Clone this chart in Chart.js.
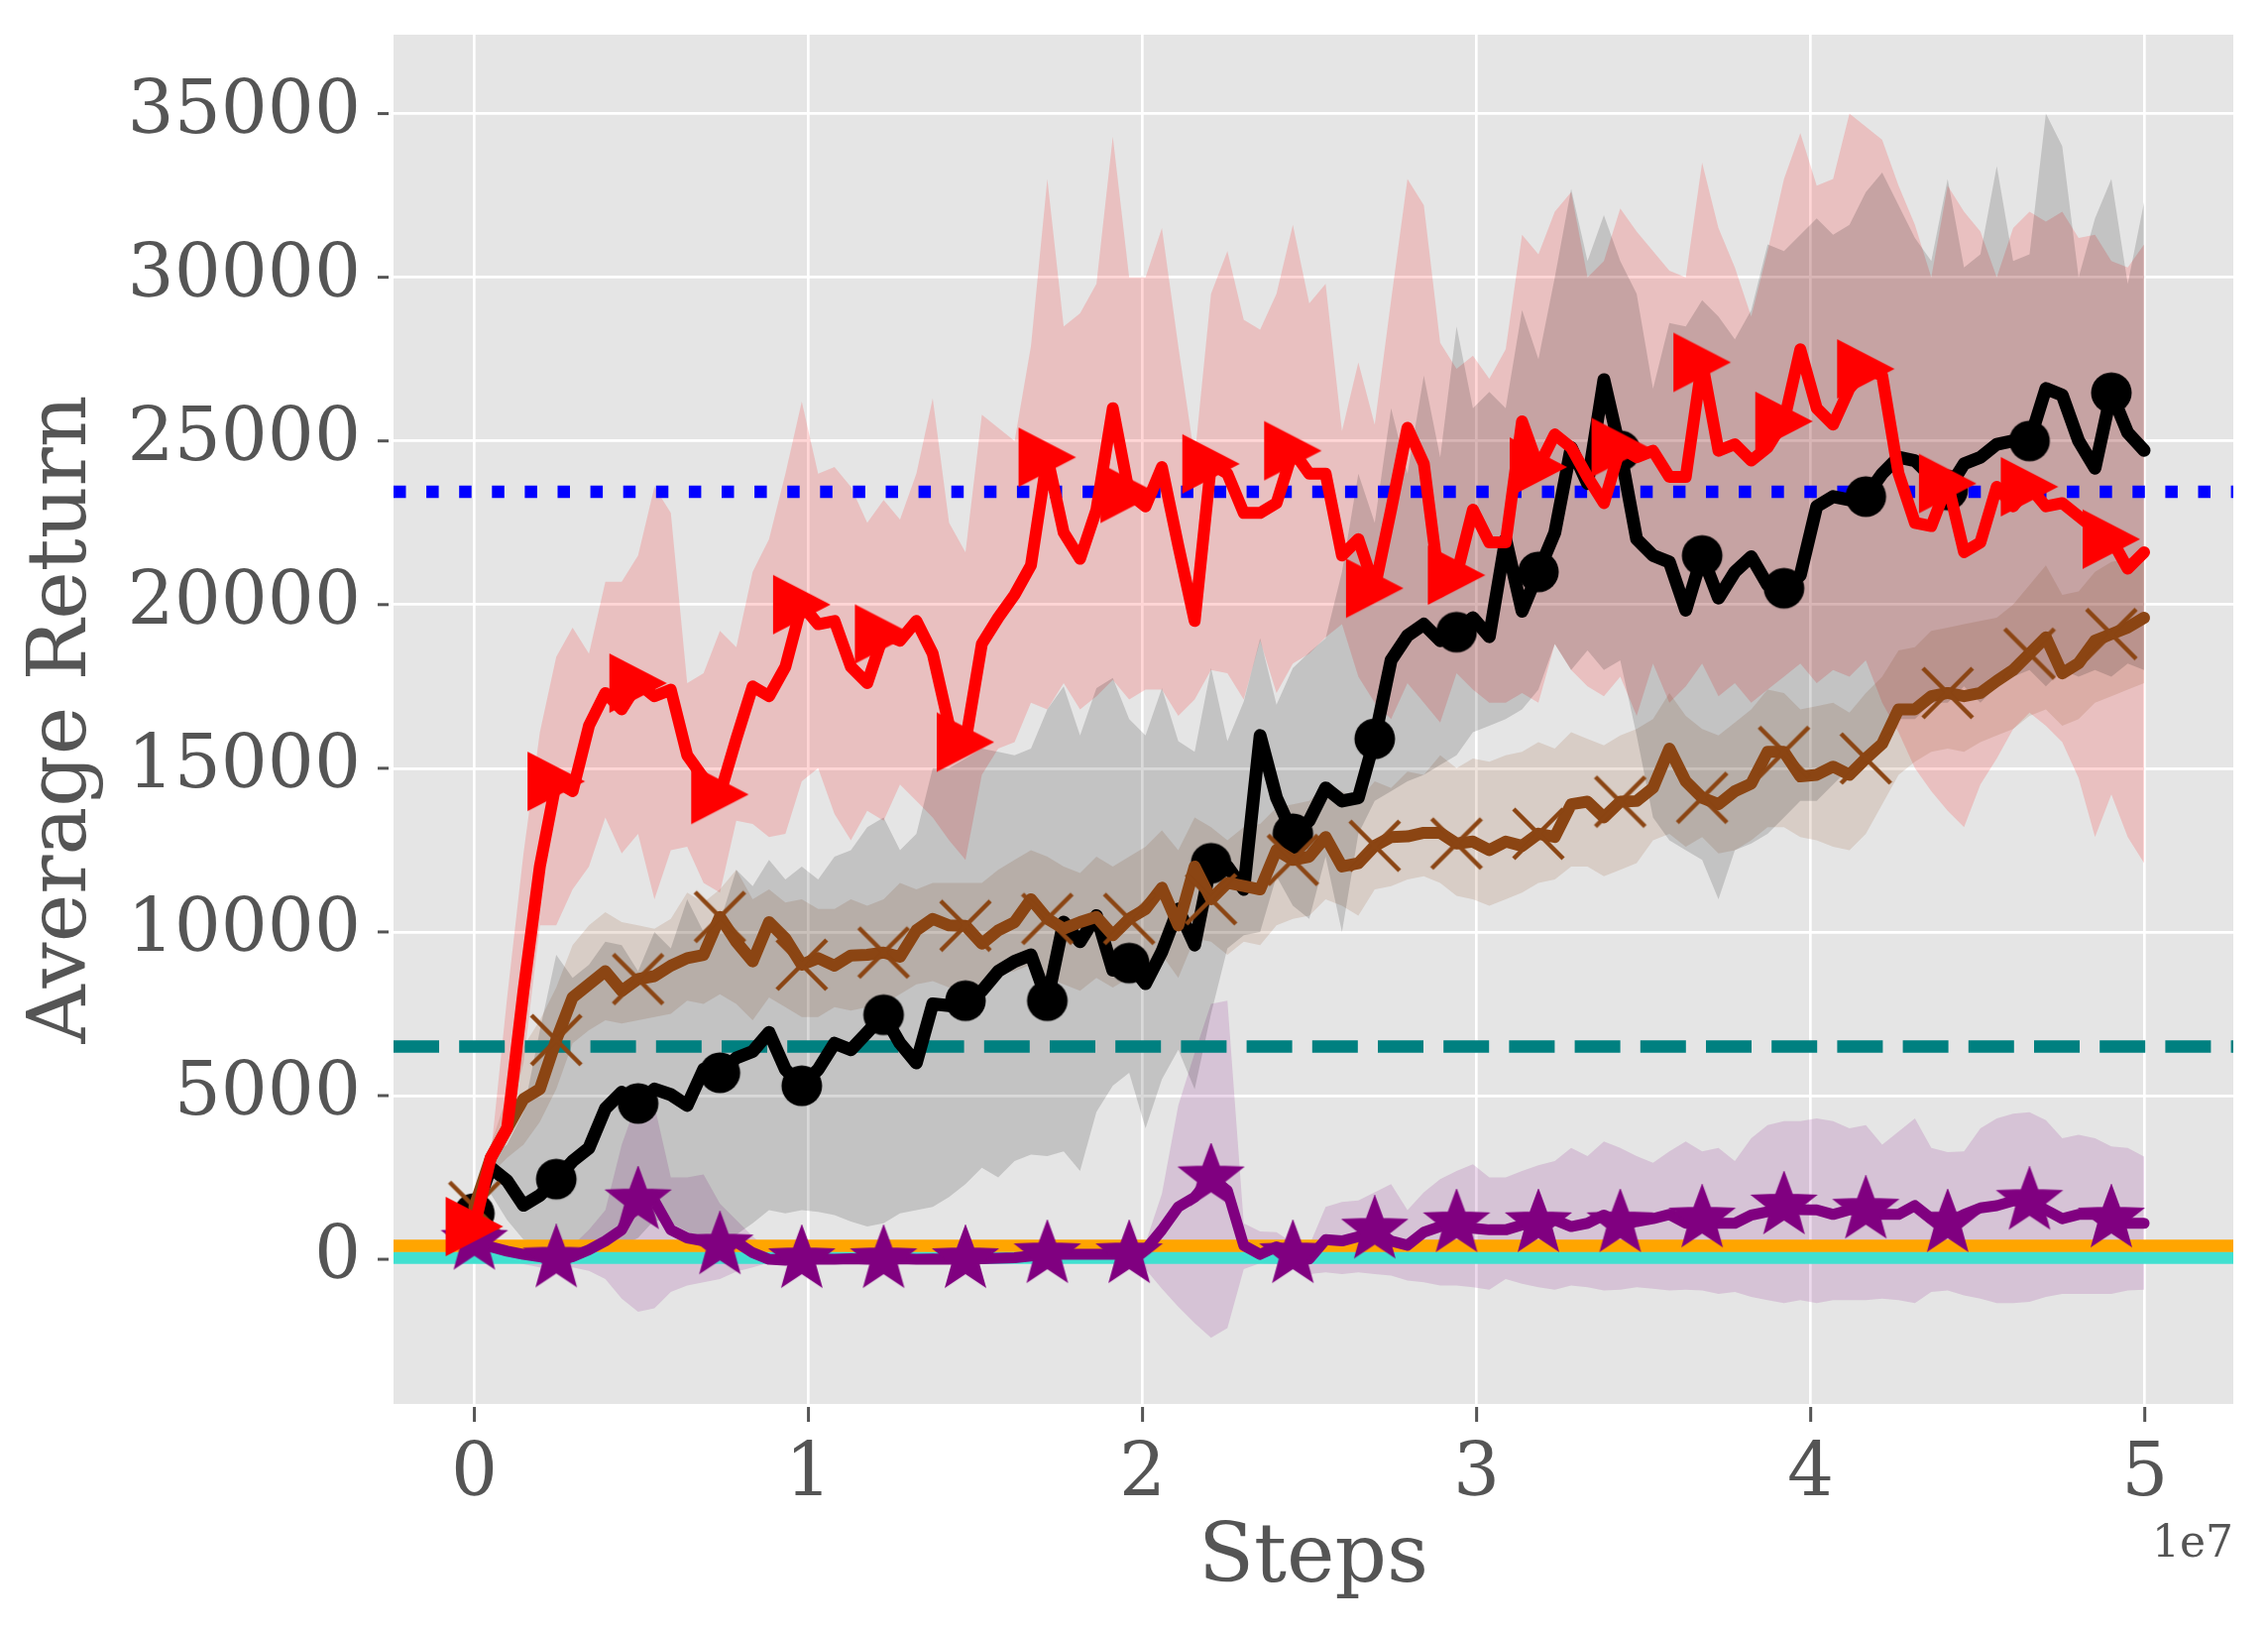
<!DOCTYPE html>
<html><head><meta charset="utf-8">
<script src="https://cdn.jsdelivr.net/npm/chart.js@4.4.1/dist/chart.umd.min.js"></script>
<style>html,body{margin:0;padding:0;background:#fff;}canvas{display:block;}</style>
</head><body>
<canvas id="c" width="2288" height="1648" style="width:2288px;height:1648px"></canvas>
<script>
// ---------------- DATA ----------------
// steps in units of 1e7
const steps = [0,.049,.098,.147,.196,.245,.294,.343,.392,.441,
.49,.539,.588,.637,.686,.735,.784,.833,.882,.931,
.98,1.029,1.078,1.127,1.176,1.225,1.274,1.323,1.372,1.421,
1.47,1.519,1.568,1.617,1.666,1.715,1.764,1.813,1.862,1.911,
1.96,2.009,2.058,2.107,2.156,2.205,2.254,2.303,2.352,2.401,
2.45,2.499,2.548,2.597,2.646,2.695,2.744,2.793,2.842,2.891,
2.94,2.989,3.038,3.087,3.136,3.185,3.234,3.283,3.332,3.381,
3.43,3.479,3.528,3.577,3.626,3.675,3.724,3.773,3.822,3.871,
3.92,3.969,4.018,4.067,4.116,4.165,4.214,4.263,4.312,4.361,
4.41,4.459,4.508,4.557,4.606,4.655,4.704,4.753,4.802,4.851,
4.9,4.949,4.998];

const redMean = [1000,3100,4000,8200,12000,14600,14300,16300,17300,16800,
17600,17200,17400,15400,14700,14200,15900,17500,17200,18100,
20000,19400,19500,18100,17600,19100,18900,19500,18500,16300,
15800,18800,19600,20300,21200,24500,22200,21400,22900,26000,
23400,23000,24200,21800,19500,24300,24000,22800,22800,23100,
24700,24000,24000,21500,22000,20500,22900,25400,24300,20400,
20900,22900,21900,21900,25600,24200,25200,24800,23900,23100,
24800,24500,24700,23900,23900,27400,24700,24900,24400,24800,
25600,27800,26000,25500,26600,27200,27000,24000,22500,22400,
23700,21600,21900,23600,23000,23600,23000,23100,22700,22300,
22000,21100,21600];
const redHi = [1300,3200,8000,12400,16100,18400,19300,18500,20700,20700,
21500,23600,22800,17600,17900,19200,18700,21000,22000,24000,
26200,24000,24200,23600,22500,23200,22600,24000,26300,22500,
21600,25800,25400,25000,27900,33000,28500,28900,29800,34300,
30000,30000,31500,27900,24500,29500,30800,28700,28400,29500,
31600,29200,29800,25300,27400,25500,29300,33000,32200,28000,
27200,27600,26900,27800,31300,30700,32000,32600,30000,30500,
32100,31400,30800,30200,30000,33500,31500,30300,28800,30800,
33000,34400,32800,33000,35000,34600,34200,32800,31600,30000,
32800,32000,31400,30000,31500,32000,31700,32000,31200,31300,
30500,30300,31000];
const redLo = [700,2500,4000,6000,10200,10200,11300,12000,13500,12400,
13000,11000,12500,12600,11500,11200,13400,13300,12900,13000,
14600,15000,13600,12800,13700,13400,14500,14000,13500,12800,
12200,14800,15600,15800,17000,16800,17600,16800,17200,17700,
17100,17400,17400,16600,17100,18000,17900,17100,18900,17300,
18200,18500,19000,19400,17800,17000,16500,17600,17000,16400,
17900,17400,17000,17000,17300,17000,18800,18000,17500,17200,
17800,16600,18200,17000,17500,18200,17200,17600,17000,17400,
17800,18200,17600,18000,17800,18300,17000,16100,15000,14300,
13700,13200,14500,15300,16200,16700,16300,15800,14700,12900,
14200,12900,12100];

const blackMean = [1400,2800,2400,1650,1950,2450,3000,3400,4600,5100,
4760,5200,5030,4700,5800,5700,6150,6350,6930,5800,
5300,5800,6600,6400,6930,7470,6600,6000,7800,7750,
7900,8200,8800,9100,9300,7900,10300,9700,10500,8830,
9050,8420,9400,10700,9600,12100,12000,11300,16000,14100,
13000,13400,14400,14000,14100,15900,18300,19050,19400,18900,
19160,19600,19020,22000,19800,21000,22200,24800,23700,26870,
24700,22000,21500,21300,19830,21500,20200,21000,21460,20600,
20500,20900,23000,23300,23200,23300,24000,24500,24400,23900,
23500,24300,24500,24900,25000,25000,26600,26400,25000,24170,
26470,25250,24710];
const blackHi = [1500,3200,3500,4500,7000,9300,8600,9000,9700,9600,
8800,10000,9500,11000,10000,10300,11900,11400,12200,11600,
12000,11600,12300,12500,13200,13500,12500,13000,15000,15000,
15300,15600,15500,15400,15600,16800,17500,16000,17450,17760,
16500,16000,17450,15830,15500,18060,15830,17040,18970,16940,
18060,18540,18970,21000,24000,22500,26000,24000,27000,24500,
28500,26000,26500,26000,29000,27500,30000,32700,30500,31900,
30500,29500,26600,28600,28500,29300,28800,28100,29000,31000,
30800,31300,31800,31300,31600,32600,33200,32200,31200,30500,
33000,30300,30700,33400,30500,30700,35000,34000,30000,31800,
33000,29800,32300];
const blackLo = [1300,2000,1200,600,500,420,300,290,300,400,
650,1200,1100,850,600,650,750,1100,1500,1400,
1500,1450,1350,1150,1000,1100,1400,1500,1600,1900,
2300,2800,2500,3000,3200,3150,3300,2700,4500,5300,
5700,4000,5500,6400,5200,7500,9500,9900,10000,11700,
10800,10400,12300,10000,13000,14000,14300,14600,14800,15100,
15400,16100,16300,16500,16800,17400,18800,18000,18600,18000,
18300,16000,13500,12800,12500,12200,11000,12500,12700,13000,
13500,14000,14000,14500,15000,15500,16000,16500,16500,17000,
17000,17500,17000,17500,17800,18000,17500,18000,17800,18000,
17800,18200,18000];

const brownMean = [1600,3100,4000,4900,5200,6700,8000,8400,8800,8200,
8560,8650,8970,9200,9300,10460,9700,9100,10300,9800,
9000,9200,8970,9280,9300,9370,9240,10050,10400,10200,
10190,9640,10050,10300,11000,10400,10100,10300,10460,9900,
10400,10700,11350,10200,12000,11000,11500,11400,11300,12500,
12200,12300,12900,12000,12100,12630,12900,12920,13030,13030,
12700,12760,12500,12760,12630,13000,12900,13900,13980,13500,
13980,14000,14400,15600,14600,14100,13900,14300,14530,15500,
15500,14750,14800,15050,14800,15300,15750,16800,16800,17200,
17300,17200,17300,17670,18000,18500,19000,17900,18210,18900,
19100,19300,19600];
const brownHi = [1800,3500,5000,6500,7300,8300,9600,10200,10600,10300,
10200,10100,10400,11200,10900,11300,11900,11000,11300,10900,
11000,10700,10700,11000,10800,11000,11500,11300,11500,11500,
11500,11500,11900,12200,12500,12300,12000,11800,12300,12000,
12300,12600,13100,12500,13500,13200,12800,13200,13300,13800,
13900,14000,14500,14300,14000,14600,14400,14900,14800,15400,
15000,15300,15200,15400,15500,15800,15600,16100,15900,15700,
16000,16200,16500,17300,16600,16200,16000,16400,16800,17400,
17300,16800,16900,17000,16700,17300,17800,18600,18700,19200,
19300,19400,19500,19600,20000,20600,21200,20300,20400,21000,
21300,21400,21600];
const brownLo = [1400,2600,3100,3500,4200,5200,6600,7000,7300,7200,
7300,7400,7500,7900,7800,8100,7800,7300,8000,7700,
7400,7400,7700,7600,7700,7800,8100,8400,8500,8300,
8100,8400,8700,8800,9000,8600,8400,8200,8600,8300,
8600,8900,9300,8600,9800,9700,9300,9700,9600,10200,
10400,10500,11000,10800,10500,11300,11400,11600,11700,11500,
11100,11000,10800,11000,11200,11500,11600,12000,12000,11700,
11900,12100,12800,13000,12600,12900,12400,12500,12800,13200,
13200,12900,12800,12600,12500,13000,13900,14800,15200,15500,
15600,15500,15800,16000,16200,16600,16800,16300,16500,17000,
17200,17400,17600];

const purpleMean = [560,380,250,150,80,20,80,290,560,900,
1800,1780,900,650,560,420,530,200,0,-30,
0,0,0,20,0,0,20,0,10,0,
0,20,30,50,100,150,150,150,150,150,
150,300,900,1600,1900,2500,2100,420,150,380,
150,10,600,560,690,900,560,430,830,1000,
1100,950,900,900,1050,1100,1200,1000,1100,1350,
1100,1150,1240,1370,1100,1240,1100,1100,1350,1450,
1640,1520,1510,1370,1510,1510,1370,1370,1640,1240,
1100,1370,1570,1640,1780,1780,1510,1240,1370,1370,
1240,1100,1100];
const purpleHi = [700,500,400,420,420,400,420,900,1500,3500,
4900,4700,2500,2500,2590,1700,1200,700,290,100,
80,80,80,100,80,80,100,80,80,80,
80,100,120,150,200,250,250,250,250,250,
250,500,2000,4700,6300,7800,7900,1100,850,830,
500,420,1600,1750,1800,2050,2300,1500,2050,2450,
2700,2900,2500,2500,2700,2870,3000,3400,3150,3600,
3400,3150,2950,3300,3600,3300,3400,3000,3700,4100,
4220,4220,4300,4220,4000,4100,3500,3900,4300,3400,
3270,3300,4000,4300,4450,4490,4250,3700,3800,3700,
3450,3400,3140];
const purpleLo = [400,200,0,-150,-250,-250,-250,-350,-600,-1200,
-1600,-1500,-1000,-800,-700,-600,-380,-250,-100,-80,
-60,-60,-60,-60,-60,-60,-60,-60,-60,-60,
-60,-60,-60,-60,-60,-60,-60,-60,-60,-60,
-60,-300,-900,-1450,-1950,-2400,-2100,-300,-120,-150,
-250,-450,-400,-450,-400,-450,-500,-650,-700,-800,
-800,-850,-930,-600,-750,-850,-930,-800,-850,-950,
-930,-850,-900,-950,-930,-950,-1060,-1000,-1150,-1250,
-1340,-1250,-1340,-1250,-1250,-1250,-1200,-1250,-1340,-1000,
-950,-1100,-1200,-1340,-1340,-1300,-1150,-1060,-1060,-1060,
-1060,-950,-930];

// reference (constant) returns
const blueDottedLevel = 23450;
const tealDashedLevel = 6500;
const orangeLevel = 410;
const turquoiseLevel = 50;

// axes
const X_MIN = -0.242e7, X_MAX = 5.265e7;
const Y_MIN = -4420, Y_MAX = 37410;
const xTickValues = [0, 1e7, 2e7, 3e7, 4e7, 5e7];
const xTickLabels = ['0','1','2','3','4','5'];
const yTickValues = [0,5000,10000,15000,20000,25000,30000,35000];
const yTickLabels = ['0','5000','10000','15000','20000','25000','30000','35000'];

// ---------------- BUILD ----------------
const pts = arr => arr.map((v, i) => ({x: steps[i] * 1e7, y: v}));
const hline = v => [{x: X_MIN, y: v}, {x: X_MAX, y: v}];

function markerCanvas(w, h, fn) {
  const c = document.createElement('canvas'); c.width = w; c.height = h;
  fn(c.getContext('2d')); return c;
}
const triRight = markerCanvas(62, 64, g => { g.fillStyle = '#ff0000'; g.beginPath();
  g.moveTo(2, 2); g.lineTo(60, 32); g.lineTo(2, 62); g.closePath(); g.fill(); });
const circ = markerCanvas(44, 44, g => { g.fillStyle = '#000000'; g.beginPath();
  g.arc(22, 22, 20.5, 0, Math.PI * 2); g.fill(); });
const xMark = markerCanvas(58, 58, g => { g.strokeStyle = '#8B4513'; g.lineWidth = 4.5; g.beginPath();
  g.moveTo(4, 4); g.lineTo(54, 54); g.moveTo(54, 4); g.lineTo(4, 54); g.stroke(); });
const star = markerCanvas(70, 70, g => { g.fillStyle = '#800080'; g.strokeStyle = '#800080'; g.lineWidth = 4; g.lineJoin = 'miter';
  g.beginPath();
  for (let k = 0; k < 10; k++) { const r = k % 2 === 0 ? 30 : 12.5; const a = -Math.PI / 2 + k * Math.PI / 5;
    g.lineTo(35 + r * Math.cos(a), 35 + r * Math.sin(a)); }
  g.closePath(); g.fill(); g.stroke(); });

const markEvery = c => (c.dataIndex % 5 === 0 ? 10 : 0);
const NONE = 'rgba(0,0,0,0)';
function band(lo, hi, color) {
  return [
    {data: pts(lo), borderColor: NONE, borderWidth: 0, pointRadius: 0, fill: false, order: 10},
    {data: pts(hi), borderColor: NONE, borderWidth: 0, pointRadius: 0, fill: '-1', backgroundColor: color, order: 10}
  ];
}
function flat(v, color, dash, order) {
  return {data: hline(v), borderColor: color, borderWidth: 12.5, borderDash: dash, borderCapStyle: 'butt',
    pointRadius: 0, fill: false, order: order};
}
function series(arr, color, marker, width, order) {
  return {data: pts(arr), borderColor: color, borderWidth: width, pointStyle: marker, pointRadius: markEvery,
    fill: false, order: order, borderJoinStyle: 'round', borderCapStyle: 'round'};
}

const datasets = [
  ...band(blackLo, blackHi, 'rgba(0,0,0,0.15)'),
  ...band(brownLo, brownHi, 'rgba(139,69,19,0.15)'),
  ...band(purpleLo, purpleHi, 'rgba(128,0,128,0.15)'),
  ...band(redLo, redHi, 'rgba(255,0,0,0.16)'),
  flat(turquoiseLevel, '#40E0D0', [], 6),
  flat(orangeLevel, '#FFA500', [], 5),
  flat(tealDashedLevel, '#008080', [46, 20.2], 5),
  flat(blueDottedLevel, '#0000FF', [12.5, 20.6], 5),
  series(blackMean, '#000000', circ, 13, 4),
  series(brownMean, '#8B4513', xMark, 12, 3),
  series(purpleMean, '#800080', star, 11, 2),
  series(redMean, '#FF0000', triRight, 12, 1)
];

const decor = {
  id: 'decor',
  beforeDraw(chart) {
    const {ctx, chartArea: a} = chart;
    ctx.save(); ctx.fillStyle = '#ffffff'; ctx.fillRect(0, 0, chart.width, chart.height);
    ctx.fillStyle = '#E5E5E5'; ctx.fillRect(a.left, a.top, a.right - a.left, a.bottom - a.top); ctx.restore();
  },
  afterDraw(chart) {
    const {ctx, chartArea: a, scales: {x, y}} = chart;
    ctx.save(); ctx.strokeStyle = '#555555'; ctx.lineWidth = 3;
    yTickValues.forEach(v => { const p = y.getPixelForValue(v); ctx.beginPath(); ctx.moveTo(a.left - 16, p); ctx.lineTo(a.left - 5, p); ctx.stroke(); });
    xTickValues.forEach(v => { const p = x.getPixelForValue(v); ctx.beginPath(); ctx.moveTo(p, a.bottom + 3); ctx.lineTo(p, a.bottom + 18); ctx.stroke(); });
    ctx.fillStyle = '#555555'; ctx.font = '44px "DejaVu Serif"'; ctx.textAlign = 'right'; ctx.textBaseline = 'alphabetic';
    ctx.fillText('1e7', a.right, 1570);
    ctx.restore();
  }
};

const tickFont = {family: 'DejaVu Serif', size: 74};
const titleFont = {family: 'DejaVu Serif', size: 82};
new Chart(document.getElementById('c'), {
  type: 'line',
  data: {datasets},
  options: {
    responsive: false, devicePixelRatio: 1, animation: false, events: [],
    layout: {padding: {top: 35, right: 35, left: 0, bottom: 0}},
    plugins: {legend: {display: false}, tooltip: {enabled: false}},
    elements: {line: {tension: 0}},
    scales: {
      x: {
        type: 'linear', min: X_MIN, max: X_MAX,
        afterFit: s => { s.height = 232; s.paddingLeft = 0; s.paddingRight = 0; },
        afterBuildTicks: s => { s.ticks = xTickValues.map(v => ({value: v})); },
        ticks: {callback: (v, i) => xTickLabels[i], font: tickFont, color: '#555555', padding: 28, maxRotation: 0, autoSkip: false},
        grid: {color: '#ffffff', lineWidth: 2.7, drawTicks: false},
        border: {display: false},
        title: {display: true, text: 'Steps', font: titleFont, color: '#555555', padding: {top: 0, bottom: 25}}
      },
      y: {
        type: 'linear', min: Y_MIN, max: Y_MAX,
        afterFit: s => { s.width = 397; s.paddingTop = 0; s.paddingBottom = 0; },
        afterBuildTicks: s => { s.ticks = yTickValues.map(v => ({value: v})); },
        ticks: {callback: (v, i) => yTickLabels[i], font: tickFont, color: '#555555', padding: 33, autoSkip: false},
        grid: {color: '#ffffff', lineWidth: 2.7, drawTicks: false},
        border: {display: false},
        title: {display: true, text: 'Average Return', font: titleFont, color: '#555555', padding: {top: 16, bottom: 0}}
      }
    }
  },
  plugins: [decor]
});
</script>
</body></html>
